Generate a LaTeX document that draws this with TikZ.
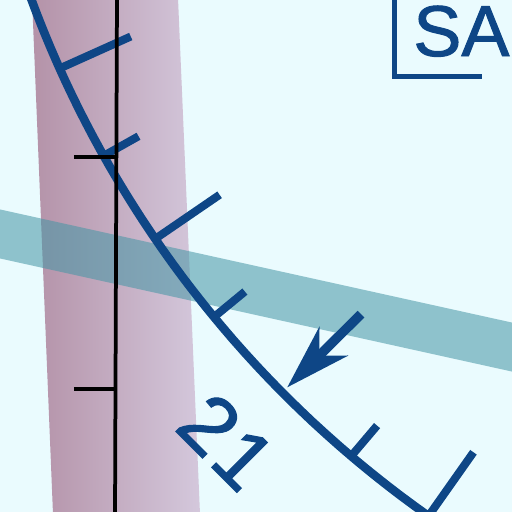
\documentclass[tikz,border=0pt]{standalone}
\usepackage{fontspec}
\setmainfont{Liberation Sans}
\newfontfamily\heavyfont{Liberation Sans}[FakeBold=1.3]
\usetikzlibrary{arrows.meta,calc}

\definecolor{bgcyan}{RGB}{234,251,254}
\definecolor{mapblue}{RGB}{14,70,134}
\definecolor{bandteal}{RGB}{70,150,165}
\definecolor{mauveleft}{RGB}{180,146,168}
\definecolor{mauveright}{RGB}{212,200,220}

\begin{document}
\begin{tikzpicture}[
			x=0.02cm, y=-0.02cm,
			arcline/.style={mapblue, line width=0.17cm},
			tickmark/.style={mapblue, line width=0.16cm},
			pointer/.style={mapblue, line width=0.19cm,
				-{Stealth[length=1.3cm, width=0.8cm, inset=0.4cm]}},
			gridline/.style={black, line width=0.075cm},
			ticklabel/.style={mapblue, inner sep=0pt,
				font=\heavyfont\fontsize{47}{47}\selectfont},
			boxlabel/.style={mapblue, inner sep=0pt,
				font=\heavyfont\fontsize{41}{41}\selectfont}
			]
			
			% ---- Background ----
			\fill[bgcyan] (0,0) rectangle (512,512);
			\useasboundingbox (0,0) rectangle (512,512);
			
			% ---- Bands ----
			\shade[left color=mauveleft, right color=mauveright]
			(32,-2) -- (178,-2) -- (200,514) -- (53,514) -- cycle;
			\fill[bandteal, fill opacity=0.56]
			(-2,209) -- (514,323) -- (514,372) -- (-2,258) -- cycle;
			
			% ---- Scale arc ----
			\coordinate (O) at (1062,-382);
			\draw[arcline] plot[domain=162:121, samples=90]
			({1062+1099*cos(\x)}, {-382+1099*sin(\x)});
			\foreach \ang/\inner in {155.8/1021, 150.7/1059, 145.6/1021,
				140.5/1059, 130.3/1059, 125.2/1021}
			\draw[tickmark] ($(O)+(\ang:1099)$) -- ($(O)+(\ang:\inner)$);
			
			% ---- Pointer and value ----
			\coordinate (ptail) at ($(O)+(135.2:988)$);
			\coordinate (ptip) at ($(O)+(135.2:1092)$);
			\draw[pointer] (ptail) -- (ptip);
			\node[ticklabel, rotate=-45] (value) at ($(O)+(135.4:1173)$) {2\kern1.5pt 1};
			
			% ---- Grid line ----
			\coordinate (gtop) at (117,-5);
			\coordinate (gbot) at (115,517);
			\draw[gridline] (gtop) -- (gbot);
			\draw[gridline] (74,157) -- (116.4,157);
			\draw[gridline] (74,389) -- (115.5,389);
			
			% ---- Corner label ----
			\draw[mapblue, line width=0.1cm] (395,-5) -- (395,76) -- (482,76);
			\node[boxlabel, anchor=base west] (corner) at (413,56) {SA};
			
		\end{tikzpicture}
\end{document}
